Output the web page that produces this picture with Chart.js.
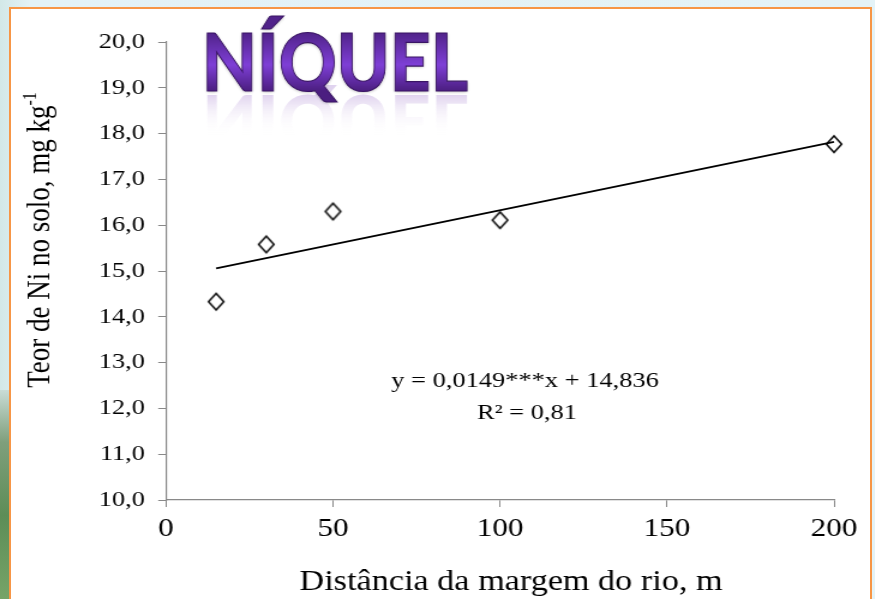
<!DOCTYPE html>
<html><head><meta charset="utf-8">
<script src="https://cdn.jsdelivr.net/npm/chart.js@4.4.1/dist/chart.umd.min.js"></script>
<style>
html,body{margin:0;padding:0;width:875px;height:599px;overflow:hidden;}
body{background:linear-gradient(to right,#d3e8e8 0px,#e3f2f6 30px,#e4f3f7 100%);position:relative;}
#leftGreen{position:absolute;left:0;top:390px;width:12px;height:209px;background:linear-gradient(to bottom,#c9dcd6 0%,#7f9f7c 25%,#5d8d57 60%,#76a468 100%);}
#frame{position:absolute;left:9px;top:7px;width:863px;height:610px;background:#fff;border:2px solid #f79646;box-sizing:border-box;}
#wrap{position:absolute;left:0;top:0;width:729px;height:599px;transform:scaleX(1.2);transform-origin:0 0;}
</style>
</head><body>
<div id="leftGreen"></div>
<div id="frame"></div>
<div id="wrap"><canvas id="c" width="729" height="599"></canvas></div>
<script>
const distances=[15,30,50,100,200];
const niValues=[14.33,15.58,16.3,16.11,17.77];
const trendX=[15,200];
const trendY=[15.06,17.82];
const xTicks=[0,50,100,150,200];
const yTicks=[10,11,12,13,14,15,16,17,18,19,20];
const titleText='NÍQUEL';
const xTitle='Distância da margem do rio, m';
const yTitle='Teor de Ni no solo, mg kg';
const yTitleSup='-1';
const eqLine1='y = 0,0149***x + 14,836';
const eqLine2='R² = 0,81';

const SERIF='"Liberation Serif","Times New Roman",serif';
const S=1.2; // horizontal stretch of the whole picture

// diamond marker image (pre-compensated for the horizontal stretch)
const mk=document.createElement('canvas');
mk.width=18;mk.height=22;
(function(){
  const c=mk.getContext('2d');
  const cx=9,cy=11,hw=6.4,hh=8.3;
  c.beginPath();
  c.moveTo(cx,cy-hh);c.lineTo(cx+hw,cy);c.lineTo(cx,cy+hh);c.lineTo(cx-hw,cy);c.closePath();
  c.lineWidth=1.5;c.strokeStyle='#000';c.stroke();
})();

const decor={
  id:'decor',
  afterDraw(chart){
    const ctx=chart.ctx;
    // Title NÍQUEL
    ctx.save();
    ctx.font='900 80px Lato';
    const w=ctx.measureText(titleText).width;
    const sx=(266/S)/w;
    const tx=202/S;
    ctx.save();
    ctx.translate(tx,95);
    ctx.scale(sx,-0.9);
    let rg=ctx.createLinearGradient(0,0,0,-45);
    rg.addColorStop(0,'rgba(160,120,205,0.32)');
    rg.addColorStop(0.45,'rgba(200,175,225,0.14)');
    rg.addColorStop(1,'rgba(255,255,255,0)');
    ctx.fillStyle=rg;
    ctx.textBaseline='alphabetic';
    ctx.fillText(titleText,0,0);
    ctx.restore();
    ctx.save();
    ctx.translate(tx,91);
    ctx.scale(sx,1);
    let g=ctx.createLinearGradient(0,-58,0,0);
    g.addColorStop(0,'#51238a');
    g.addColorStop(0.55,'#7e3fd6');
    g.addColorStop(1,'#4b1e80');
    ctx.fillStyle=g;
    ctx.textBaseline='alphabetic';
    ctx.shadowColor='rgba(0,0,0,0.3)';
    ctx.shadowBlur=3;
    ctx.shadowOffsetY=1;
    ctx.fillText(titleText,0,0);
    ctx.shadowBlur=0;ctx.shadowOffsetY=0;
    ctx.lineWidth=1.2;
    ctx.strokeStyle='#3a1565';
    ctx.strokeText(titleText,0,0);
    ctx.restore();
    ctx.restore();

    // axis titles
    ctx.save();
    ctx.fillStyle='#000';
    ctx.font='28.5px '+SERIF;
    ctx.textAlign='center';
    ctx.textBaseline='middle';
    ctx.fillText(xTitle,511/S,583);
    ctx.translate(34/S+6,240);
    ctx.rotate(-Math.PI/2);
    ctx.font='27px '+SERIF;
    const mw=ctx.measureText(yTitle).width;
    ctx.font='16px '+SERIF;
    const sw=ctx.measureText(yTitleSup).width;
    const tot=mw+sw;
    ctx.textAlign='left';
    ctx.font='27px '+SERIF;
    ctx.fillText(yTitle,-tot/2,0);
    ctx.font='16px '+SERIF;
    ctx.fillText(yTitleSup,-tot/2+mw,-9);
    ctx.restore();

    // equation
    ctx.save();
    ctx.fillStyle='#000';
    ctx.font='22px '+SERIF;
    ctx.textAlign='center';
    ctx.textBaseline='middle';
    ctx.fillText(eqLine1,525/S,381);
    ctx.fillText(eqLine2,527/S,413);
    ctx.restore();
  }
};

new Chart(document.getElementById('c'),{
  type:'scatter',
  data:{
    datasets:[
      {type:'line',data:trendX.map((x,i)=>({x:x,y:trendY[i]})),borderColor:'#000',borderWidth:1.8,pointRadius:0,fill:false,tension:0,order:2,clip:false},
      {type:'scatter',data:distances.map((x,i)=>({x:x,y:niValues[i]})),pointStyle:mk,pointRadius:9,pointHoverRadius:9,order:1,clip:false}
    ]
  },
  options:{
    responsive:false,animation:false,
    layout:{padding:{left:0,right:729-834/S,top:42,bottom:0}},
    plugins:{legend:{display:false},tooltip:{enabled:false},title:{display:false}},
    scales:{
      x:{type:'linear',min:0,max:200,
        afterBuildTicks(s){s.ticks=xTicks.map(v=>({value:v}));},
        afterFit(s){s.height=99;},
        ticks:{color:'#000',font:{family:SERIF,size:26},padding:7,maxRotation:0},
        grid:{drawOnChartArea:false,drawTicks:true,tickLength:7,color:'#898989',lineWidth:1},
        border:{color:'#898989',width:1.3}
      },
      y:{type:'linear',min:10,max:20,
        afterBuildTicks(s){s.ticks=yTicks.map(v=>({value:v}));},
        afterFit(s){s.width=166/S;},
        ticks:{color:'#000',font:{family:SERIF,size:22},padding:11,callback:v=>v.toFixed(1).replace('.',',')},
        grid:{drawOnChartArea:false,drawTicks:true,tickLength:6.5,color:'#898989',lineWidth:1},
        border:{color:'#898989',width:1.2}
      }
    }
  },
  plugins:[decor]
});
</script>
</body></html>
